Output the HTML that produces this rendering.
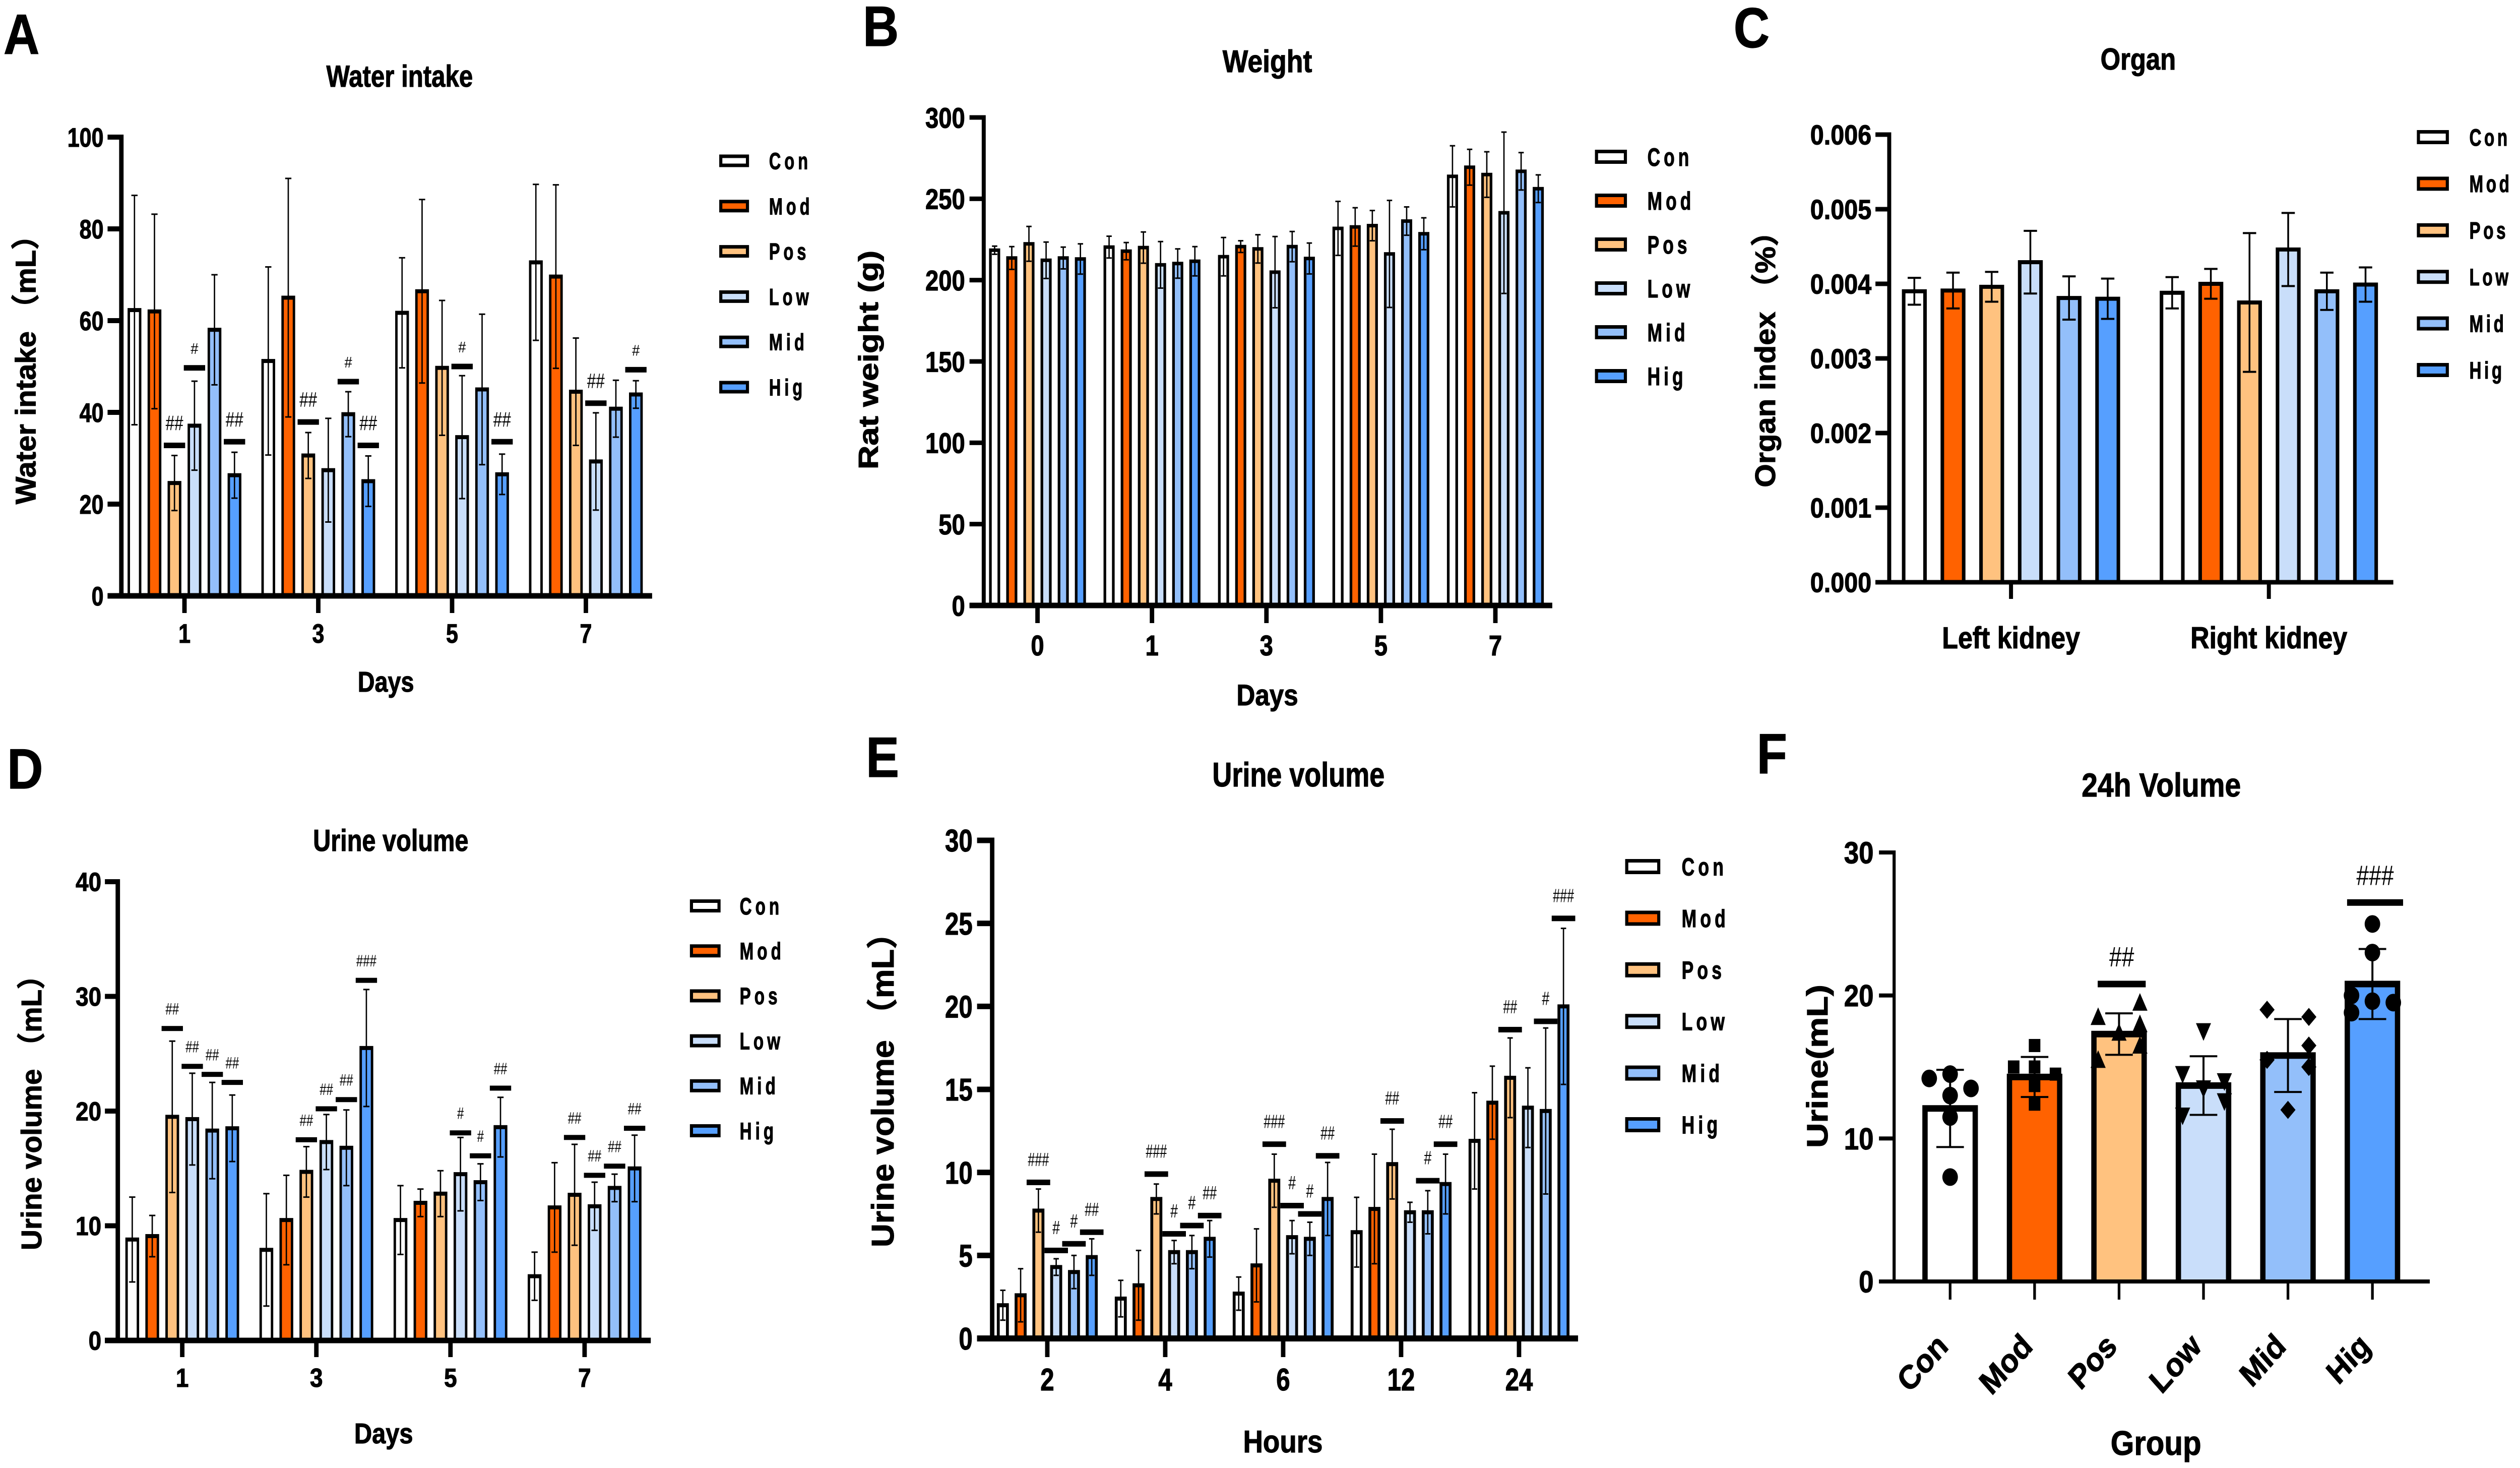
<!DOCTYPE html>
<html lang="en">
<head>
<meta charset="utf-8">
<title>Water intake, weight, organ index and urine volume charts</title>
<style>
html,body{margin:0;padding:0;background:#fff;width:100%;height:100%;overflow:hidden}
svg{display:block;width:100vw;height:100vh}
text{font-family:"Liberation Sans","Noto Sans CJK SC",sans-serif;font-weight:700;fill:#000;stroke:#000;stroke-width:1.2}
</style>
</head>
<body>
<svg id="figure" xmlns="http://www.w3.org/2000/svg" viewBox="0 0 5669 2912" preserveAspectRatio="none">
<rect width="5669" height="2912" fill="#fff"/>

<g id="panelA">
<text transform="translate(8,107)" font-size="112">A</text>
<text transform="translate(899,172) scale(.93,1)" font-size="60" text-anchor="middle">Water intake</text>
<text transform="translate(80,719) rotate(-90) scale(.908,1)" font-size="64" text-anchor="middle">Water intake （mL）</text>
<text transform="translate(868,1372) scale(.93,1)" font-size="57" text-anchor="middle">Days</text>
</g>

<g id="panelB">
<text transform="translate(1941,91)" font-size="112">B</text>
<text transform="translate(2851,143) scale(.98,1)" font-size="62" text-anchor="middle">Weight</text>
<text transform="translate(1975,714) rotate(-90) scale(1.06,1)" font-size="62" text-anchor="middle">Rat weight (g)</text>
<text transform="translate(2851,1399)" font-size="58" text-anchor="middle">Days</text>
</g>

<g id="panelC">
<text transform="translate(3900,94)" font-size="112">C</text>
<text transform="translate(4810,138) scale(.96,1)" font-size="60" text-anchor="middle">Organ</text>
<text transform="translate(3993,698) rotate(-90) scale(.933,1)" font-size="64" text-anchor="middle">Organ index （%）</text>
</g>

<g id="panelD">
<text transform="translate(16,1564)" font-size="112">D</text>
<text transform="translate(879,1688) scale(.92,1)" font-size="60" text-anchor="middle">Urine volume</text>
<text transform="translate(93,2193) rotate(-90) scale(.887,1)" font-size="64" text-anchor="middle">Urine volume （mL）</text>
<text transform="translate(863,2863) scale(.97,1)" font-size="57" text-anchor="middle">Days</text>
</g>

<g id="panelE">
<text transform="translate(1948,1541)" font-size="112">E</text>
<text transform="translate(2921,1560) scale(.9,1)" font-size="68" text-anchor="middle">Urine volume</text>
<text transform="translate(2010,2146) rotate(-90) scale(.927,1)" font-size="70" text-anchor="middle">Urine volume （mL）</text>
<text transform="translate(2886,2881)" font-size="62" text-anchor="middle">Hours</text>
</g>

<g id="panelF">
<text transform="translate(3952,1534)" font-size="112">F</text>
<text transform="translate(4862,1580) scale(.98,1)" font-size="66" text-anchor="middle">24h Volume</text>
<text transform="translate(4111,2115) rotate(-90) scale(1.04,1)" font-size="66" text-anchor="middle">Urine(mL)</text>
<text transform="translate(4850,2886)" font-size="68" text-anchor="middle">Group</text>
</g>
</svg>

<script>
// Shared series
const seriesNames = ['Con', 'Mod', 'Pos', 'Low', 'Mid', 'Hig'];
const seriesColors = ['#ffffff', '#ff6200', '#ffc27f', '#c9defa', '#93bffa', '#569fff'];

// Panel A: water intake
const waterCategories = ['1', '3', '5', '7'];
const waterTicks = ['0', '20', '40', '60', '80', '100'];
const waterMeans = [
  [62.3, 62, 24.6, 37.1, 58, 26.3],
  [51.2, 65, 30.6, 27.4, 39.6, 25],
  [61.7, 66.4, 49.7, 34.6, 45, 26.5],
  [72.7, 69.6, 44.5, 29.3, 40.8, 43.9]
];
const waterErrors = [
  [25, 21.2, 6, 9.7, 12, 5],
  [20.5, 26, 5, 11.3, 4.9, 5.5],
  [12, 20, 14.7, 13.4, 16.4, 4.4],
  [17, 20, 11.7, 10.6, 6.2, 3]
];
const waterSignificance = [
  [0, 2, 32.8, '##'], [0, 3, 49.7, '#'], [0, 5, 33.6, '##'],
  [1, 2, 37.9, '##'], [1, 4, 46.7, '#'], [1, 5, 32.8, '##'],
  [2, 3, 50, '#'], [2, 5, 33.6, '##'],
  [3, 3, 42, '##'], [3, 5, 49.3, '#']
];

// Panel B: weight
const weightCategories = ['0', '1', '3', '5', '7'];
const weightTicks = ['0', '50', '100', '150', '200', '250', '300'];
const weightMeans = [
  [218.4, 213.6, 222.3, 212.2, 213.6, 213],
  [220.3, 217.8, 220, 209.4, 210.2, 211.6],
  [214.4, 220.6, 219.2, 204.9, 220.6, 213.3],
  [231.8, 232.7, 233.5, 216.1, 236.3, 228.5],
  [263.8, 269.4, 264.9, 241.4, 266.9, 256.2]
];
const weightErrors = [
  [2.5, 7, 10.7, 11.2, 6.7, 9.3],
  [6.7, 5.3, 9.6, 14.3, 9, 9],
  [11.8, 3.6, 8.7, 21.9, 9.3, 9.5],
  [16.6, 11.8, 9.3, 32.9, 8.7, 9.8],
  [18.8, 11, 14, 49.6, 11.5, 8.5]
];

// Panel C: organ index
const organCategories = ['Left kidney', 'Right kidney'];
const organTicks = ['0.000', '0.001', '0.002', '0.003', '0.004', '0.005', '0.006'];
const organMeans = [
  [0.0039, 0.00391, 0.00396, 0.00429, 0.00381, 0.0038],
  [0.00388, 0.004, 0.00375, 0.00446, 0.0039, 0.00399]
];
const organErrors = [
  [0.00018, 0.00024, 0.0002, 0.00042, 0.00029, 0.00027],
  [0.00021, 0.0002, 0.00093, 0.00049, 0.00025, 0.00023]
];

// Panel D: urine volume by day
const urineDayCategories = ['1', '3', '5', '7'];
const urineDayTicks = ['0', '10', '20', '30', '40'];
const urineDayMeans = [
  [8.8, 9.1, 19.5, 19.3, 18.3, 18.5],
  [7.9, 10.5, 14.7, 17.3, 16.8, 25.5],
  [10.5, 12, 12.8, 14.5, 13.8, 18.6],
  [5.6, 11.6, 12.7, 11.7, 13.3, 15]
];
const urineDayErrors = [
  [3.7, 1.8, 6.6, 4, 4.2, 2.9],
  [4.9, 3.9, 2.2, 2.4, 3.3, 5.1],
  [3, 1.2, 2, 3.2, 1.6, 2.6],
  [2.1, 3.9, 4.4, 2.1, 1.2, 2.9]
];
const urineDaySignificance = [
  [0, 2, 27.2, '##'], [0, 3, 23.9, '##'], [0, 4, 23.2, '##'], [0, 5, 22.5, '##'],
  [1, 2, 17.5, '##'], [1, 3, 20.2, '##'], [1, 4, 21, '##'], [1, 5, 31.4, '###'],
  [2, 3, 18.1, '#'], [2, 4, 16.1, '#'], [2, 5, 22, '##'],
  [3, 2, 17.7, '##'], [3, 3, 14.4, '##'], [3, 4, 15.2, '##'], [3, 5, 18.5, '##']
];

// Panel E: urine volume by hour
const urineHourCategories = ['2', '4', '6', '12', '24'];
const urineHourTicks = ['0', '5', '10', '15', '20', '25', '30'];
const urineHourMeans = [
  [2, 2.6, 7.7, 4.3, 4, 4.9],
  [2.4, 3.2, 8.4, 5.2, 5.2, 6],
  [2.7, 4.4, 9.5, 6.1, 6, 8.4],
  [6.4, 7.8, 10.5, 7.6, 7.6, 9.3],
  [11.9, 14.2, 15.7, 13.9, 13.7, 20]
];
const urineHourErrors = [
  [0.9, 1.6, 1.3, 0.5, 1, 1.1],
  [1.1, 2.1, 0.9, 0.7, 1, 1.1],
  [1, 2.2, 1.6, 1, 1, 2.2],
  [2.1, 3.3, 2.1, 0.6, 1.3, 1.8],
  [2.9, 2.2, 2.4, 2.4, 5, 4.7]
];
const urineHourSignificance = [
  [0, 2, 9.4, '###'], [0, 3, 5.3, '#'], [0, 4, 5.7, '#'], [0, 5, 6.4, '##'],
  [1, 2, 9.9, '###'], [1, 3, 6.3, '#'], [1, 4, 6.8, '#'], [1, 5, 7.4, '##'],
  [2, 2, 11.7, '###'], [2, 3, 8, '#'], [2, 4, 7.5, '#'], [2, 5, 11, '##'],
  [3, 2, 13.1, '##'], [3, 4, 9.5, '#'], [3, 5, 11.7, '##'],
  [4, 2, 18.6, '##'], [4, 4, 19.1, '#'], [4, 5, 25.3, '###']
];

// Panel F: 24 h volume
const volumeCategories = ['Con', 'Mod', 'Pos', 'Low', 'Mid', 'Hig'];
const volumeTicks = ['0', '10', '20', '30'];
const volumeMeans = [12.1, 14.3, 17.3, 13.7, 15.8, 20.8];
const volumeErrors = [2.7, 1.4, 1.45, 2.05, 2.55, 2.45];
const volumePoints = [
  [14.2, 14.5, 13.5, 13, 11.5, 7.3],
  [15, 16.5, 15, 14.5, 13.7, 12.4],
  [18.5, 19.5, 18, 17.4, 16.5, 15.5],
  [17.5, 14.5, 14, 13.5, 12.6, 11.6],
  [19, 18.5, 16.5, 15.5, 15, 12],
  [25, 23, 20, 19.6, 19.5, 18.8]
];
const volumePointSlots = [
  [-1, 0, 1, 0, 0, 0],
  [-1, 0, 0, 1, 0, 0],
  [-1, 1, 1, 0, 1, -1],
  [0, -1, 1, 0, 1, -1],
  [-1, 1, 1, -1, 1, 0],
  [0, 0, -1, 0, 1, -1]
];
const volumeMarkers = ['circle', 'square', 'up', 'down', 'diamond', 'circle'];
const volumeSignificance = [
  [2, 20.8, '##'],
  [5, 26.5, '###']
];

const SVG_NS = 'http://www.w3.org/2000/svg';

function mark(parent, tagName, attrs, name) {
  const el = document.createElementNS(SVG_NS, tagName);
  for (const key in attrs) el.setAttribute(key, attrs[key]);
  
  
  parent.appendChild(el);
  return el;
}

function label(parent, x, y, str, size, sx, anchor, name, spacing, rotate) {
  const t = 'translate(' + x + ',' + y + ')' + (rotate ? ' rotate(' + rotate + ')' : '') + ' scale(' + sx + ',1)';
  const attrs = { transform: t, 'font-size': size, 'text-anchor': anchor };
  if (spacing) attrs['letter-spacing'] = spacing;
  const el = mark(parent, 'text', attrs, name);
  el.textContent = str;
  return el;
}

function errorBar(parent, x, yHigh, yLow, c, name) {
  mark(parent, 'rect', { x: x - c.errW / 2, y: yHigh, width: c.errW, height: yLow - yHigh, fill: '#000' }, name + '-stem');
  mark(parent, 'rect', { x: x - c.capW / 2, y: yHigh - c.capH / 2, width: c.capW, height: c.capH, fill: '#000' }, name + '-cap-top');
  mark(parent, 'rect', { x: x - c.capW / 2, y: yLow - c.capH / 2, width: c.capW, height: c.capH, fill: '#000' }, name + '-cap-bottom');
}

function drawBar(parent, x, yTop, c, color, name) {
  const left = x - c.barW / 2;
  mark(parent, 'rect', { x: left, y: yTop - c.topW / 2, width: c.barW, height: c.y0 - yTop + c.topW / 2, fill: '#000' }, name + '-outline');
  mark(parent, 'rect', { x: left + c.sideW, y: yTop + c.topW / 2, width: c.barW - 2 * c.sideW, height: Math.max(0, c.y0 - yTop - c.topW / 2), fill: color }, name);
}

function drawAxes(parent, c, ticks, scaleY, tickXs) {
  mark(parent, 'rect', { x: c.axisX - c.axisW / 2, y: c.yTop - c.yTickH / 2, width: c.axisW, height: c.y0 - c.yTop + c.yTickH / 2, fill: '#000' }, 'y-axis-line');
  mark(parent, 'rect', { x: c.tickLeft, y: c.y0 - c.axisH / 2, width: c.xEnd - c.tickLeft, height: c.axisH, fill: '#000' }, 'x-axis-line');
  ticks.forEach(function (tick) {
    const yy = scaleY(Number(tick));
    mark(parent, 'rect', { x: c.tickLeft, y: yy - c.yTickH / 2, width: c.axisX - c.tickLeft, height: c.yTickH, fill: '#000' }, 'y-tick-' + tick);
    label(parent, c.tickLeft - c.tickGap, yy + c.tickFs * 0.358, tick, c.tickFs, c.tickSx, 'end', 'y-tick-label-' + tick);
  });
  tickXs.forEach(function (tx, i) {
    mark(parent, 'rect', { x: tx - c.xTickW / 2, y: c.y0, width: c.xTickW, height: c.xTickLen, fill: '#000' }, 'x-tick-' + i);
  });
}

function drawLegend(parent, c) {
  seriesNames.forEach(function (name, i) {
    const cy = c.legendY + i * c.legendStep;
    const g = mark(parent, 'g', {}, 'legend-entry-' + name.toLowerCase());
    mark(g, 'rect', { x: c.legendX + 3.5, y: cy - c.legendH / 2 + 3.5, width: c.legendW - 7, height: c.legendH - 7, fill: seriesColors[i], stroke: '#000', 'stroke-width': 7 }, 'legend-swatch-' + name.toLowerCase());
    label(g, c.legendLabelX, cy + c.legendFs * 0.358, name, c.legendFs, c.legendSx, 'start', 'legend-label-' + name.toLowerCase(), c.legendSpacing);
  });
}

function drawGrouped(panelId, c, categories, ticks, means, errors, significance) {
  const parent = document.getElementById(panelId);
  const scaleY = function (v) { return c.y0 - (v / c.max) * (c.y0 - c.yTop); };
  const groupX = function (g) { return c.firstX + g * c.groupStep; };
  const barX = function (g, s) { return groupX(g) + (s - 2.5) * c.barStep; };
  means.forEach(function (row, g) {
    row.forEach(function (value, s) {
      const name = 'bar-' + categories[g].replace(/\s+/g, '-').toLowerCase() + '-' + seriesNames[s].toLowerCase();
      drawBar(parent, barX(g, s), scaleY(value), c, seriesColors[s], name);
      errorBar(parent, barX(g, s), scaleY(value + errors[g][s]), scaleY(value - errors[g][s]), c, 'error-bar-' + categories[g].replace(/\s+/g, '-').toLowerCase() + '-' + seriesNames[s].toLowerCase());
    });
  });
  drawAxes(parent, c, ticks, scaleY, categories.map(function (_, g) { return groupX(g); }));
  categories.forEach(function (cat, g) {
    label(parent, groupX(g), c.xLabelY, cat, c.catFs || c.tickFs, c.catSx || c.tickSx, 'middle', 'x-tick-label-' + cat.replace(/\s+/g, '-').toLowerCase());
  });
  (significance || []).forEach(function (row) {
    const x = barX(row[0], row[1]);
    const y = scaleY(row[2]);
    const style = c.hash[row[3]];
    mark(parent, 'rect', { x: x - c.sigW / 2, y: y - c.sigH / 2, width: c.sigW, height: c.sigH, fill: '#000' }, 'significance-bar');
    const t = label(parent, x, y - style.gap + style.fs * 0.358, row[3], style.fs, style.sx, 'middle', 'significance-mark');
    t.style.fontWeight = '400';
    t.style.strokeWidth = '0';
  });
  drawLegend(parent, c);
}

drawGrouped('panelA', {
  firstX: 415, groupStep: 301, barStep: 45, y0: 1182, yTop: 272, max: 100,
  barW: 31, sideW: 5.5, topW: 8, errW: 3, capW: 14, capH: 3,
  axisX: 273, axisW: 10, axisH: 11, yTickH: 10, tickLeft: 242, xEnd: 1467, xTickW: 10, xTickLen: 34,
  tickFs: 53, tickSx: 0.92, tickGap: 9, xLabelY: 1275,
  sigW: 48, sigH: 11,
  hash: { '#': { fs: 31, sx: 1, gap: 39 }, '##': { fs: 42, sx: 0.85, gap: 45 } },
  legendX: 1618, legendY: 319, legendStep: 89.8, legendW: 67, legendH: 25,
  legendLabelX: 1730, legendFs: 46, legendSx: 0.8, legendSpacing: 10
}, waterCategories, waterTicks, waterMeans, waterErrors, waterSignificance);

drawGrouped('panelB', {
  firstX: 2334, groupStep: 257.5, barStep: 38.6, y0: 1201, yTop: 233, max: 300,
  barW: 25, sideW: 6, topW: 7, errW: 3, capW: 12, capH: 3,
  axisX: 2213, axisW: 9, axisH: 11, yTickH: 9, tickLeft: 2181, xEnd: 3492, xTickW: 10, xTickLen: 35,
  tickFs: 57, tickSx: 0.94, tickGap: 10, xLabelY: 1300,
  legendX: 3588, legendY: 311, legendStep: 87, legendW: 72, legendH: 28,
  legendLabelX: 3706, legendFs: 50, legendSx: 0.8, legendSpacing: 10
}, weightCategories, weightTicks, weightMeans, weightErrors);

drawGrouped('panelC', {
  firstX: 4524, groupStep: 580, barStep: 87, y0: 1155, yTop: 267, max: 0.006,
  barW: 56, sideW: 8, topW: 8, errW: 4, capW: 30, capH: 4,
  axisX: 4250, axisW: 9, axisH: 9, yTickH: 9, tickLeft: 4219, xEnd: 5384, xTickW: 9, xTickLen: 33,
  tickFs: 55, tickSx: 1, tickGap: 9, xLabelY: 1286, catFs: 60, catSx: 0.98,
  legendX: 5437, legendY: 272, legendStep: 92.4, legendW: 72, legendH: 28,
  legendLabelX: 5555, legendFs: 47, legendSx: 0.8, legendSpacing: 8
}, organCategories, organTicks, organMeans, organErrors);

drawGrouped('panelD', {
  firstX: 410, groupStep: 301.7, barStep: 45, y0: 2659, yTop: 1749, max: 40,
  barW: 31, sideW: 5.5, topW: 8, errW: 3, capW: 14, capH: 3,
  axisX: 265, axisW: 10, axisH: 11, yTickH: 10, tickLeft: 236, xEnd: 1464, xTickW: 10, xTickLen: 33,
  tickFs: 52, tickSx: 1, tickGap: 8, xLabelY: 2751,
  sigW: 48, sigH: 10,
  hash: { '#': { fs: 32, sx: 0.85, gap: 39 }, '##': { fs: 32, sx: 0.85, gap: 39 }, '###': { fs: 32, sx: 0.85, gap: 39 } },
  legendX: 1552, legendY: 1797, legendStep: 89.2, legendW: 69, legendH: 26,
  legendLabelX: 1664, legendFs: 47, legendSx: 0.8, legendSpacing: 10
}, urineDayCategories, urineDayTicks, urineDayMeans, urineDayErrors, urineDaySignificance);

drawGrouped('panelE', {
  firstX: 2356, groupStep: 265.3, barStep: 40, y0: 2655, yTop: 1667, max: 30,
  barW: 27, sideW: 6.5, topW: 8, errW: 3, capW: 12, capH: 3,
  axisX: 2232, axisW: 10, axisH: 12, yTickH: 11, tickLeft: 2198, xEnd: 3550, xTickW: 10, xTickLen: 37,
  tickFs: 62, tickSx: 0.9, tickGap: 10, xLabelY: 2758,
  sigW: 53, sigH: 11,
  hash: { '#': { fs: 38, sx: 0.8, gap: 46 }, '##': { fs: 38, sx: 0.75, gap: 46 }, '###': { fs: 38, sx: 0.75, gap: 46 } },
  legendX: 3656, legendY: 1719, legendStep: 102.4, legendW: 79, legendH: 30,
  legendLabelX: 3783, legendFs: 49, legendSx: 0.82, legendSpacing: 10
}, urineHourCategories, urineHourTicks, urineHourMeans, urineHourErrors, urineHourSignificance);

// Panel F: single-series bars with individual points
(function () {
  const parent = document.getElementById('panelF');
  const c = {
    firstX: 4387, groupStep: 190, y0: 2542, yTop: 1691, max: 30,
    barW: 125, sideW: 12, topW: 13, errW: 4.5, capW: 62, capH: 4,
    axisX: 4261, axisW: 7, axisH: 8, yTickH: 8, tickLeft: 4227, xEnd: 5466, xTickW: 6, xTickLen: 36,
    tickFs: 60, tickSx: 1, tickGap: 12, slotStep: 47
  };
  const scaleY = function (v) { return c.y0 - (v / c.max) * (c.y0 - c.yTop); };
  const groupX = function (g) { return c.firstX + g * c.groupStep; };

  function drawMarker(x, y, kind, name) {
    if (kind === 'circle') {
      mark(parent, 'circle', { cx: x, cy: y, r: 17.5, fill: '#000' }, name);
    } else if (kind === 'square') {
      mark(parent, 'rect', { x: x - 13, y: y - 13, width: 26, height: 26, fill: '#000' }, name);
    } else {
      const p = kind === 'up' ? [[x, y - 19], [x + 17, y + 16], [x - 17, y + 16]]
        : kind === 'down' ? [[x, y + 19], [x + 17, y - 16], [x - 17, y - 16]]
        : [[x, y - 18], [x + 17, y], [x, y + 18], [x - 17, y]];
      mark(parent, 'polygon', { points: p.map(function (q) { return q.join(','); }).join(' '), fill: '#000' }, name);
    }
  }

  volumeMeans.forEach(function (value, i) {
    const x = groupX(i);
    const key = volumeCategories[i].toLowerCase();
    drawBar(parent, x, scaleY(value), c, seriesColors[i], 'bar-' + key);
    volumePoints[i].forEach(function (point, j) {
      drawMarker(x + volumePointSlots[i][j] * c.slotStep, scaleY(point), volumeMarkers[i], 'data-point-' + key);
    });
    errorBar(parent, x, scaleY(value + volumeErrors[i]), scaleY(value - volumeErrors[i]), c, 'error-bar-' + key);
  });
  drawAxes(parent, c, volumeTicks, scaleY, volumeCategories.map(function (_, g) { return groupX(g); }));
  volumeCategories.forEach(function (cat, i) {
    label(parent, groupX(i) - 1, 2674, cat, 66, 1, 'end', 'x-tick-label-' + cat.toLowerCase(), 0, -45);
  });
  volumeSignificance.forEach(function (row) {
    const x = groupX(row[0]) + 6;
    const y = scaleY(row[1]);
    const w = row[2].length * 18 + 72;
    mark(parent, 'rect', { x: x - w / 2, y: y - 6.5, width: w, height: 13, fill: '#000' }, 'significance-bar');
    const t = label(parent, x, y - 55 + 20, row[2], 56, 0.9, 'middle', 'significance-mark');
    t.style.fontWeight = '400';
    t.style.strokeWidth = '0';
  });
})();
</script>
</body>
</html>
